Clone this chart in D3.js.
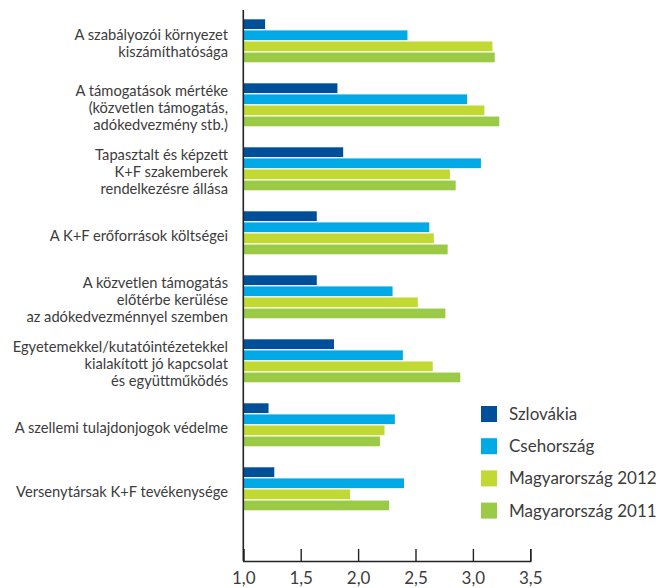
<!DOCTYPE html>
<html>
<head>
<meta charset="utf-8">
<script src="https://cdn.jsdelivr.net/npm/d3@7"></script>
<style>
  html, body { margin: 0; padding: 0; background: #fff; }
  svg { display: block; }
  text { font-family: Lato, "Open Sans", sans-serif; fill: #3c3c3c; }
</style>
</head>
<body>
<svg id="chart" width="661" height="588"></svg>
<script>
const categories = [
  ["A szabályozói környezet", "kiszámíthatósága"],
  ["A támogatások mértéke", "(közvetlen támogatás,", "adókedvezmény stb.)"],
  ["Tapasztalt és képzett", "K+F szakemberek", "rendelkezésre állása"],
  ["A K+F erőforrások költségei"],
  ["A közvetlen támogatás", "előtérbe kerülése", "az adókedvezménnyel szemben"],
  ["Egyetemekkel/kutatóintézetekkel", "kialakított jó kapcsolat", "és együttműködés"],
  ["A szellemi tulajdonjogok védelme"],
  ["Versenytársak K+F tevékenysége"]
];
const seriesNames = ["Szlovákia", "Csehország", "Magyarország 2012", "Magyarország 2011"];
const szlovakia     = [1.19, 1.82, 1.87, 1.64, 1.64, 1.79, 1.22, 1.27];
const csehorszag    = [2.43, 2.95, 3.07, 2.62, 2.30, 2.39, 2.32, 2.40];
const magyar2012    = [3.17, 3.10, 2.80, 2.66, 2.52, 2.65, 2.23, 1.93];
const magyar2011    = [3.19, 3.23, 2.85, 2.78, 2.76, 2.89, 2.19, 2.27];
const tickValues = [1.0, 1.5, 2.0, 2.5, 3.0, 3.5];
const colors = ["#004f9a", "#00aae6", "#c1d932", "#9bca47"];

const seriesValues = [szlovakia, csehorszag, magyar2012, magyar2011];
const svg = d3.select("#chart");

const x = d3.scaleLinear().domain([1.0, 3.5]).range([243.3, 530.3]);
const catIdx = d3.range(categories.length);
const y = d3.scaleBand().domain(catIdx).range([19.3, 510.3]).paddingInner(0.328).paddingOuter(0);
const ySub = d3.scaleBand().domain(d3.range(seriesNames.length)).range([0, y.bandwidth()]).paddingInner(0.12);

// bars
const groups = svg.append("g").selectAll("g").data(catIdx).join("g")
  .attr("transform", i => `translate(0,${y(i)})`);
groups.selectAll("rect")
  .data(i => seriesValues.map((vals, s) => ({s, v: vals[i]})))
  .join("rect")
  .attr("x", x(1.0))
  .attr("y", d => ySub(d.s))
  .attr("width", d => x(d.v) - x(1.0))
  .attr("height", ySub.bandwidth())
  .attr("fill", d => colors[d.s]);

// category labels
const lh = 16.8;
const labels = svg.append("g").selectAll("text").data(catIdx).join("text")
  .attr("text-anchor", "end")
  .style("font-size", "14.7px")
  .attr("transform", i => {
    const n = categories[i].length;
    const cy = y(i) + y.bandwidth() / 2 + 3;
    return `translate(228,${cy - (n - 1) * lh / 2 + 5})`;
  });
labels.selectAll("tspan").data(i => categories[i]).join("tspan")
  .attr("x", 0)
  .attr("dy", (d, k) => k === 0 ? 0 : lh)
  .text(d => d);

// x axis
const axisY = 561;
const xAxis = d3.axisBottom(x).tickValues(tickValues).tickSize(-12).tickPadding(11)
  .tickFormat(d => d3.format(".1f")(d).replace(".", ","));
const ax = svg.append("g").attr("transform", `translate(0,${axisY})`).call(xAxis);
ax.select(".domain").attr("stroke", "#222").attr("stroke-width", 1.4);
ax.selectAll(".tick line").attr("stroke", "#222").attr("stroke-width", 1.4);
ax.selectAll(".tick text").style("font-size", "17px").style("font-family", "Lato, sans-serif").attr("fill", "#3c3c3c");

// vertical axis line
svg.append("line")
  .attr("x1", x(1.0)).attr("x2", x(1.0))
  .attr("y1", 10).attr("y2", axisY)
  .attr("stroke", "#222").attr("stroke-width", 1.6);

// legend
const legend = svg.append("g").attr("transform", "translate(481,406)");
const li = legend.selectAll("g").data(seriesNames).join("g")
  .attr("transform", (d, i) => `translate(0,${i * 32.2})`);
li.append("rect").attr("width", 16).attr("height", 16).attr("fill", (d, i) => colors[i]);
li.append("text").attr("x", 28).attr("y", 8).attr("dy", "0.35em")
  .style("font-size", "17px").text(d => d);
</script>
</body>
</html>
